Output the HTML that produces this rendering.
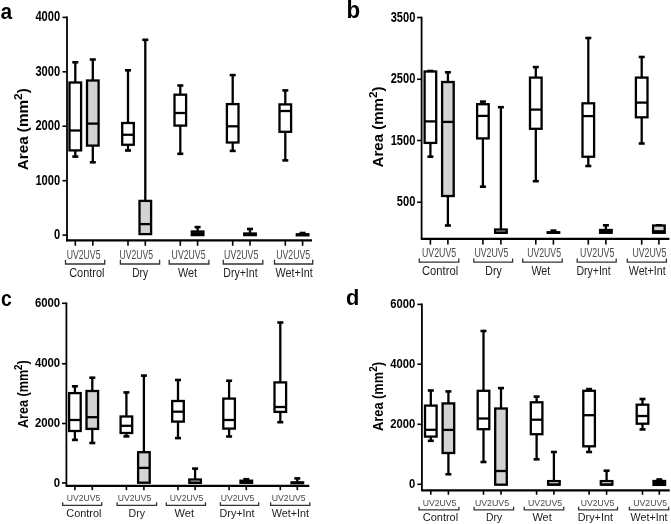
<!DOCTYPE html><html><head><meta charset="utf-8"><style>html,body{margin:0;padding:0;background:#fff;width:671px;height:524px;overflow:hidden}svg{display:block}text{font-family:"Liberation Sans",sans-serif}</style></head><body>
<svg style="will-change:transform" width="671" height="524" viewBox="0 0 671 524">
<rect width="671" height="524" fill="#fff"/>
<text transform="translate(0.6,18.6) scale(0.92,1)" font-size="22.8" font-weight="bold" fill="#000">a</text>
<line x1="67" y1="16.6" x2="67" y2="241.3" stroke="#000" stroke-width="1.8"/>
<line x1="62.5" y1="17.4" x2="67" y2="17.4" stroke="#000" stroke-width="1.6"/>
<text x="60.2" y="21.2" font-size="14.3" font-weight="bold" text-anchor="end" textLength="24.8" lengthAdjust="spacingAndGlyphs" fill="#000">4000</text>
<line x1="62.5" y1="71.8" x2="67" y2="71.8" stroke="#000" stroke-width="1.6"/>
<text x="60.2" y="75.6" font-size="14.3" font-weight="bold" text-anchor="end" textLength="24.8" lengthAdjust="spacingAndGlyphs" fill="#000">3000</text>
<line x1="62.5" y1="126.2" x2="67" y2="126.2" stroke="#000" stroke-width="1.6"/>
<text x="60.2" y="130" font-size="14.3" font-weight="bold" text-anchor="end" textLength="24.8" lengthAdjust="spacingAndGlyphs" fill="#000">2000</text>
<line x1="62.5" y1="180.7" x2="67" y2="180.7" stroke="#000" stroke-width="1.6"/>
<text x="60.2" y="184.5" font-size="14.3" font-weight="bold" text-anchor="end" textLength="24.8" lengthAdjust="spacingAndGlyphs" fill="#000">1000</text>
<line x1="62.5" y1="235.1" x2="67" y2="235.1" stroke="#000" stroke-width="1.6"/>
<text x="60.2" y="238.9" font-size="14.3" font-weight="bold" text-anchor="end" textLength="6.2" lengthAdjust="spacingAndGlyphs" fill="#000">0</text>
<text transform="translate(28,170.3) rotate(-90)" font-size="14.4" font-weight="bold" fill="#000" textLength="82.1" lengthAdjust="spacingAndGlyphs">Area (mm<tspan dy="-6" font-size="11.23">2</tspan><tspan dy="6">)</tspan></text>
<line x1="66" y1="240.3" x2="312" y2="240.3" stroke="#000" stroke-width="2.2"/>
<line x1="75.3" y1="240.3" x2="75.3" y2="245.8" stroke="#000" stroke-width="1.6"/>
<line x1="92.8" y1="240.3" x2="92.8" y2="245.8" stroke="#000" stroke-width="1.6"/>
<line x1="128" y1="240.3" x2="128" y2="245.8" stroke="#000" stroke-width="1.6"/>
<line x1="145.3" y1="240.3" x2="145.3" y2="245.8" stroke="#000" stroke-width="1.6"/>
<line x1="180.3" y1="240.3" x2="180.3" y2="245.8" stroke="#000" stroke-width="1.6"/>
<line x1="197.6" y1="240.3" x2="197.6" y2="245.8" stroke="#000" stroke-width="1.6"/>
<line x1="232.7" y1="240.3" x2="232.7" y2="245.8" stroke="#000" stroke-width="1.6"/>
<line x1="250" y1="240.3" x2="250" y2="245.8" stroke="#000" stroke-width="1.6"/>
<line x1="285.3" y1="240.3" x2="285.3" y2="245.8" stroke="#000" stroke-width="1.6"/>
<line x1="302.6" y1="240.3" x2="302.6" y2="245.8" stroke="#000" stroke-width="1.6"/>
<line x1="75.3" y1="62.3" x2="75.3" y2="82.5" stroke="#000" stroke-width="2.3"/>
<line x1="72.3" y1="62.3" x2="78.3" y2="62.3" stroke="#000" stroke-width="2.6"/>
<line x1="75.3" y1="150.4" x2="75.3" y2="156.6" stroke="#000" stroke-width="2.3"/>
<line x1="72.3" y1="156.6" x2="78.3" y2="156.6" stroke="#000" stroke-width="2.6"/>
<rect x="69.5" y="82.5" width="11.6" height="67.9" fill="#fff" stroke="#000" stroke-width="2.3"/>
<line x1="69.5" y1="130.5" x2="81.1" y2="130.5" stroke="#000" stroke-width="2.3"/>
<line x1="92.8" y1="59.5" x2="92.8" y2="80.5" stroke="#000" stroke-width="2.3"/>
<line x1="89.8" y1="59.5" x2="95.8" y2="59.5" stroke="#000" stroke-width="2.6"/>
<line x1="92.8" y1="145.6" x2="92.8" y2="162.3" stroke="#000" stroke-width="2.3"/>
<line x1="89.8" y1="162.3" x2="95.8" y2="162.3" stroke="#000" stroke-width="2.6"/>
<rect x="87" y="80.5" width="11.6" height="65.1" fill="#d3d3d3" stroke="#000" stroke-width="2.3"/>
<line x1="87" y1="123.6" x2="98.6" y2="123.6" stroke="#000" stroke-width="2.3"/>
<line x1="128" y1="70.3" x2="128" y2="123" stroke="#000" stroke-width="2.3"/>
<line x1="125" y1="70.3" x2="131" y2="70.3" stroke="#000" stroke-width="2.6"/>
<line x1="128" y1="144.75" x2="128" y2="150.5" stroke="#000" stroke-width="2.3"/>
<line x1="125" y1="150.5" x2="131" y2="150.5" stroke="#000" stroke-width="2.6"/>
<rect x="122.2" y="123" width="11.6" height="21.75" fill="#fff" stroke="#000" stroke-width="2.3"/>
<line x1="122.2" y1="134.75" x2="133.8" y2="134.75" stroke="#000" stroke-width="2.3"/>
<line x1="145.3" y1="39.8" x2="145.3" y2="200.9" stroke="#000" stroke-width="2.3"/>
<line x1="142.3" y1="39.8" x2="148.3" y2="39.8" stroke="#000" stroke-width="2.6"/>
<rect x="139.5" y="200.9" width="11.6" height="33.2" fill="#d3d3d3" stroke="#000" stroke-width="2.3"/>
<line x1="139.5" y1="224.1" x2="151.1" y2="224.1" stroke="#000" stroke-width="2.3"/>
<line x1="180.3" y1="85.5" x2="180.3" y2="94.7" stroke="#000" stroke-width="2.3"/>
<line x1="177.3" y1="85.5" x2="183.3" y2="85.5" stroke="#000" stroke-width="2.6"/>
<line x1="180.3" y1="125.6" x2="180.3" y2="153.8" stroke="#000" stroke-width="2.3"/>
<line x1="177.3" y1="153.8" x2="183.3" y2="153.8" stroke="#000" stroke-width="2.6"/>
<rect x="174.5" y="94.7" width="11.6" height="30.9" fill="#fff" stroke="#000" stroke-width="2.3"/>
<line x1="174.5" y1="113" x2="186.1" y2="113" stroke="#000" stroke-width="2.3"/>
<line x1="197.6" y1="227.1" x2="197.6" y2="231.5" stroke="#000" stroke-width="2.3"/>
<line x1="194.6" y1="227.1" x2="200.6" y2="227.1" stroke="#000" stroke-width="2.6"/>
<rect x="191.8" y="231.5" width="11.6" height="3.6" fill="#fff" stroke="#000" stroke-width="2.3"/>
<line x1="191.8" y1="233.3" x2="203.4" y2="233.3" stroke="#000" stroke-width="2.3"/>
<line x1="232.7" y1="75.1" x2="232.7" y2="104.1" stroke="#000" stroke-width="2.3"/>
<line x1="229.7" y1="75.1" x2="235.7" y2="75.1" stroke="#000" stroke-width="2.6"/>
<line x1="232.7" y1="142.5" x2="232.7" y2="150.9" stroke="#000" stroke-width="2.3"/>
<line x1="229.7" y1="150.9" x2="235.7" y2="150.9" stroke="#000" stroke-width="2.6"/>
<rect x="226.9" y="104.1" width="11.6" height="38.4" fill="#fff" stroke="#000" stroke-width="2.3"/>
<line x1="226.9" y1="126.3" x2="238.5" y2="126.3" stroke="#000" stroke-width="2.3"/>
<line x1="250" y1="229" x2="250" y2="233.5" stroke="#000" stroke-width="2.3"/>
<line x1="247" y1="229" x2="253" y2="229" stroke="#000" stroke-width="2.6"/>
<rect x="244.2" y="233.5" width="11.6" height="1.6" fill="#fff" stroke="#000" stroke-width="2.3"/>
<line x1="244.2" y1="234.3" x2="255.8" y2="234.3" stroke="#000" stroke-width="2.3"/>
<line x1="285.3" y1="90.4" x2="285.3" y2="104.4" stroke="#000" stroke-width="2.3"/>
<line x1="282.3" y1="90.4" x2="288.3" y2="90.4" stroke="#000" stroke-width="2.6"/>
<line x1="285.3" y1="131.8" x2="285.3" y2="160.4" stroke="#000" stroke-width="2.3"/>
<line x1="282.3" y1="160.4" x2="288.3" y2="160.4" stroke="#000" stroke-width="2.6"/>
<rect x="279.5" y="104.4" width="11.6" height="27.4" fill="#fff" stroke="#000" stroke-width="2.3"/>
<line x1="279.5" y1="111" x2="291.1" y2="111" stroke="#000" stroke-width="2.3"/>
<line x1="302.6" y1="233" x2="302.6" y2="234.3" stroke="#000" stroke-width="2.3"/>
<line x1="299.6" y1="233" x2="305.6" y2="233" stroke="#000" stroke-width="2.6"/>
<rect x="296.8" y="234.3" width="11.6" height="1" fill="#fff" stroke="#000" stroke-width="2.3"/>
<line x1="296.8" y1="234.8" x2="308.4" y2="234.8" stroke="#000" stroke-width="2.3"/>
<text x="66.7" y="258.7" font-size="12.4" fill="#484848" textLength="33.8" lengthAdjust="spacingAndGlyphs">UV2UV5</text>
<text x="119.6" y="258.7" font-size="12.4" fill="#484848" textLength="33.5" lengthAdjust="spacingAndGlyphs">UV2UV5</text>
<text x="171.6" y="258.7" font-size="12.4" fill="#484848" textLength="33.9" lengthAdjust="spacingAndGlyphs">UV2UV5</text>
<text x="224.1" y="258.7" font-size="12.4" fill="#484848" textLength="34.3" lengthAdjust="spacingAndGlyphs">UV2UV5</text>
<text x="276.2" y="258.7" font-size="12.4" fill="#484848" textLength="33.9" lengthAdjust="spacingAndGlyphs">UV2UV5</text>
<path d="M65.5 259.7V264H104.7V259.7" fill="none" stroke="#333" stroke-width="1.3"/>
<path d="M120.4 259.7V264H159.6V259.7" fill="none" stroke="#333" stroke-width="1.3"/>
<path d="M169.2 259.7V264H208.9V259.7" fill="none" stroke="#333" stroke-width="1.3"/>
<path d="M223.3 259.7V264H262.8V259.7" fill="none" stroke="#333" stroke-width="1.3"/>
<path d="M274.5 259.7V264H312.7V259.7" fill="none" stroke="#333" stroke-width="1.3"/>
<text x="69.2" y="276.8" font-size="13.5" fill="#222" textLength="35.2" lengthAdjust="spacingAndGlyphs">Control</text>
<text x="132.3" y="276.8" font-size="13.5" fill="#222" textLength="15.7" lengthAdjust="spacingAndGlyphs">Dry</text>
<text x="177.9" y="276.8" font-size="13.5" fill="#222" textLength="19.1" lengthAdjust="spacingAndGlyphs">Wet</text>
<text x="223.3" y="276.8" font-size="13.5" fill="#222" textLength="34.3" lengthAdjust="spacingAndGlyphs">Dry+Int</text>
<text x="275.5" y="276.8" font-size="13.5" fill="#222" textLength="37.2" lengthAdjust="spacingAndGlyphs">Wet+Int</text>
<text transform="translate(346.6,18.1) scale(0.96,1)" font-size="23.2" font-weight="bold" fill="#000">b</text>
<line x1="421.6" y1="16.7" x2="421.6" y2="239.8" stroke="#000" stroke-width="1.8"/>
<line x1="417.1" y1="17.5" x2="421.6" y2="17.5" stroke="#000" stroke-width="1.6"/>
<text x="415.3" y="21.5" font-size="14.3" font-weight="bold" text-anchor="end" textLength="24.6" lengthAdjust="spacingAndGlyphs" fill="#000">3500</text>
<line x1="417.1" y1="79.25" x2="421.6" y2="79.25" stroke="#000" stroke-width="1.6"/>
<text x="415.3" y="83.25" font-size="14.3" font-weight="bold" text-anchor="end" textLength="24.6" lengthAdjust="spacingAndGlyphs" fill="#000">2500</text>
<line x1="417.1" y1="140.5" x2="421.6" y2="140.5" stroke="#000" stroke-width="1.6"/>
<text x="415.3" y="144.5" font-size="14.3" font-weight="bold" text-anchor="end" textLength="24.6" lengthAdjust="spacingAndGlyphs" fill="#000">1500</text>
<line x1="417.1" y1="202.25" x2="421.6" y2="202.25" stroke="#000" stroke-width="1.6"/>
<text x="415.3" y="206.25" font-size="14.3" font-weight="bold" text-anchor="end" textLength="18.45" lengthAdjust="spacingAndGlyphs" fill="#000">500</text>
<text transform="translate(382.7,167.5) rotate(-90)" font-size="14.4" font-weight="bold" fill="#000" textLength="81.1" lengthAdjust="spacingAndGlyphs">Area (mm<tspan dy="-6" font-size="11.23">2</tspan><tspan dy="6">)</tspan></text>
<line x1="421.2" y1="238.8" x2="669.4" y2="238.8" stroke="#000" stroke-width="2.2"/>
<line x1="430.4" y1="238.8" x2="430.4" y2="244.6" stroke="#000" stroke-width="1.6"/>
<line x1="447.9" y1="238.8" x2="447.9" y2="244.6" stroke="#000" stroke-width="1.6"/>
<line x1="482.9" y1="238.8" x2="482.9" y2="244.6" stroke="#000" stroke-width="1.6"/>
<line x1="500.9" y1="238.8" x2="500.9" y2="244.6" stroke="#000" stroke-width="1.6"/>
<line x1="535.8" y1="238.8" x2="535.8" y2="244.6" stroke="#000" stroke-width="1.6"/>
<line x1="553.4" y1="238.8" x2="553.4" y2="244.6" stroke="#000" stroke-width="1.6"/>
<line x1="588.3" y1="238.8" x2="588.3" y2="244.6" stroke="#000" stroke-width="1.6"/>
<line x1="605.9" y1="238.8" x2="605.9" y2="244.6" stroke="#000" stroke-width="1.6"/>
<line x1="641.7" y1="238.8" x2="641.7" y2="244.6" stroke="#000" stroke-width="1.6"/>
<line x1="658.9" y1="238.8" x2="658.9" y2="244.6" stroke="#000" stroke-width="1.6"/>
<line x1="427.4" y1="71" x2="433.4" y2="71" stroke="#000" stroke-width="2.6"/>
<line x1="430.4" y1="142.9" x2="430.4" y2="156.7" stroke="#000" stroke-width="2.3"/>
<line x1="427.4" y1="156.7" x2="433.4" y2="156.7" stroke="#000" stroke-width="2.6"/>
<rect x="424.6" y="71.5" width="11.6" height="71.4" fill="#fff" stroke="#000" stroke-width="2.3"/>
<line x1="424.6" y1="121.4" x2="436.2" y2="121.4" stroke="#000" stroke-width="2.3"/>
<line x1="447.9" y1="72.3" x2="447.9" y2="82" stroke="#000" stroke-width="2.3"/>
<line x1="444.9" y1="72.3" x2="450.9" y2="72.3" stroke="#000" stroke-width="2.6"/>
<line x1="447.9" y1="196" x2="447.9" y2="225.5" stroke="#000" stroke-width="2.3"/>
<line x1="444.9" y1="225.5" x2="450.9" y2="225.5" stroke="#000" stroke-width="2.6"/>
<rect x="442.1" y="82" width="11.6" height="114" fill="#d3d3d3" stroke="#000" stroke-width="2.3"/>
<line x1="442.1" y1="121.9" x2="453.7" y2="121.9" stroke="#000" stroke-width="2.3"/>
<line x1="482.9" y1="101.6" x2="482.9" y2="104.2" stroke="#000" stroke-width="2.3"/>
<line x1="479.9" y1="101.6" x2="485.9" y2="101.6" stroke="#000" stroke-width="2.6"/>
<line x1="482.9" y1="138.4" x2="482.9" y2="186.7" stroke="#000" stroke-width="2.3"/>
<line x1="479.9" y1="186.7" x2="485.9" y2="186.7" stroke="#000" stroke-width="2.6"/>
<rect x="477.1" y="104.2" width="11.6" height="34.2" fill="#fff" stroke="#000" stroke-width="2.3"/>
<line x1="477.1" y1="115.9" x2="488.7" y2="115.9" stroke="#000" stroke-width="2.3"/>
<line x1="500.9" y1="107.2" x2="500.9" y2="229.5" stroke="#000" stroke-width="2.3"/>
<line x1="497.9" y1="107.2" x2="503.9" y2="107.2" stroke="#000" stroke-width="2.6"/>
<rect x="495.1" y="229.5" width="11.6" height="3.3" fill="#d3d3d3" stroke="#000" stroke-width="2.3"/>
<line x1="495.1" y1="232.8" x2="506.7" y2="232.8" stroke="#000" stroke-width="2.3"/>
<line x1="535.8" y1="67.1" x2="535.8" y2="77.6" stroke="#000" stroke-width="2.3"/>
<line x1="532.8" y1="67.1" x2="538.8" y2="67.1" stroke="#000" stroke-width="2.6"/>
<line x1="535.8" y1="128.8" x2="535.8" y2="181.2" stroke="#000" stroke-width="2.3"/>
<line x1="532.8" y1="181.2" x2="538.8" y2="181.2" stroke="#000" stroke-width="2.6"/>
<rect x="530" y="77.6" width="11.6" height="51.2" fill="#fff" stroke="#000" stroke-width="2.3"/>
<line x1="530" y1="109.6" x2="541.6" y2="109.6" stroke="#000" stroke-width="2.3"/>
<line x1="553.4" y1="230.6" x2="553.4" y2="232.3" stroke="#000" stroke-width="2.3"/>
<line x1="550.4" y1="230.6" x2="556.4" y2="230.6" stroke="#000" stroke-width="2.6"/>
<rect x="547.6" y="232.3" width="11.6" height="0.5" fill="#fff" stroke="#000" stroke-width="2.3"/>
<line x1="547.6" y1="232.5" x2="559.2" y2="232.5" stroke="#000" stroke-width="2.3"/>
<line x1="588.3" y1="38" x2="588.3" y2="103.3" stroke="#000" stroke-width="2.3"/>
<line x1="585.3" y1="38" x2="591.3" y2="38" stroke="#000" stroke-width="2.6"/>
<line x1="588.3" y1="156.75" x2="588.3" y2="166" stroke="#000" stroke-width="2.3"/>
<line x1="585.3" y1="166" x2="591.3" y2="166" stroke="#000" stroke-width="2.6"/>
<rect x="582.5" y="103.3" width="11.6" height="53.45" fill="#fff" stroke="#000" stroke-width="2.3"/>
<line x1="582.5" y1="116.1" x2="594.1" y2="116.1" stroke="#000" stroke-width="2.3"/>
<line x1="605.9" y1="225.3" x2="605.9" y2="230" stroke="#000" stroke-width="2.3"/>
<line x1="602.9" y1="225.3" x2="608.9" y2="225.3" stroke="#000" stroke-width="2.6"/>
<rect x="600.1" y="230" width="11.6" height="2.8" fill="#fff" stroke="#000" stroke-width="2.3"/>
<line x1="600.1" y1="231.4" x2="611.7" y2="231.4" stroke="#000" stroke-width="2.3"/>
<line x1="641.7" y1="57" x2="641.7" y2="77.6" stroke="#000" stroke-width="2.3"/>
<line x1="638.7" y1="57" x2="644.7" y2="57" stroke="#000" stroke-width="2.6"/>
<line x1="641.7" y1="117.3" x2="641.7" y2="143.5" stroke="#000" stroke-width="2.3"/>
<line x1="638.7" y1="143.5" x2="644.7" y2="143.5" stroke="#000" stroke-width="2.6"/>
<rect x="635.9" y="77.6" width="11.6" height="39.7" fill="#fff" stroke="#000" stroke-width="2.3"/>
<line x1="635.9" y1="102.6" x2="647.5" y2="102.6" stroke="#000" stroke-width="2.3"/>
<line x1="655.9" y1="225.3" x2="661.9" y2="225.3" stroke="#000" stroke-width="2.6"/>
<rect x="653.1" y="225.5" width="11.6" height="7.3" fill="#d3d3d3" stroke="#000" stroke-width="2.3"/>
<line x1="653.1" y1="231.3" x2="664.7" y2="231.3" stroke="#000" stroke-width="2.3"/>
<text x="422" y="257.4" font-size="12.4" fill="#484848" textLength="34.2" lengthAdjust="spacingAndGlyphs">UV2UV5</text>
<text x="474.4" y="257.4" font-size="12.4" fill="#484848" textLength="34" lengthAdjust="spacingAndGlyphs">UV2UV5</text>
<text x="527.2" y="257.4" font-size="12.4" fill="#484848" textLength="33.8" lengthAdjust="spacingAndGlyphs">UV2UV5</text>
<text x="580.1" y="257.4" font-size="12.4" fill="#484848" textLength="34.3" lengthAdjust="spacingAndGlyphs">UV2UV5</text>
<text x="632.4" y="257.4" font-size="12.4" fill="#484848" textLength="34" lengthAdjust="spacingAndGlyphs">UV2UV5</text>
<path d="M419.3 258.6V262.2H458.8V258.6" fill="none" stroke="#333" stroke-width="1.3"/>
<path d="M473.8 258.6V262.2H512.6V258.6" fill="none" stroke="#333" stroke-width="1.3"/>
<path d="M522.7 258.6V262.2H562.2V258.6" fill="none" stroke="#333" stroke-width="1.3"/>
<path d="M577.2 258.6V262.2H616.2V258.6" fill="none" stroke="#333" stroke-width="1.3"/>
<path d="M627.3 258.6V262.2H666.4V258.6" fill="none" stroke="#333" stroke-width="1.3"/>
<text x="422" y="275.4" font-size="13.5" fill="#222" textLength="36.2" lengthAdjust="spacingAndGlyphs">Control</text>
<text x="485.3" y="275.4" font-size="13.5" fill="#222" textLength="16.4" lengthAdjust="spacingAndGlyphs">Dry</text>
<text x="531.4" y="275.4" font-size="13.5" fill="#222" textLength="18.9" lengthAdjust="spacingAndGlyphs">Wet</text>
<text x="576.4" y="275.4" font-size="13.5" fill="#222" textLength="34.2" lengthAdjust="spacingAndGlyphs">Dry+Int</text>
<text x="628.8" y="275.4" font-size="13.5" fill="#222" textLength="36.8" lengthAdjust="spacingAndGlyphs">Wet+Int</text>
<text transform="translate(1,305.5) scale(0.86,1)" font-size="22.5" font-weight="bold" fill="#000">c</text>
<line x1="66.4" y1="302.5" x2="66.4" y2="486.9" stroke="#000" stroke-width="1.8"/>
<line x1="61.9" y1="303.3" x2="66.4" y2="303.3" stroke="#000" stroke-width="1.6"/>
<text x="60.2" y="306.8" font-size="13.2" font-weight="bold" text-anchor="end" textLength="25.3" lengthAdjust="spacingAndGlyphs" fill="#000">6000</text>
<line x1="61.9" y1="363.75" x2="66.4" y2="363.75" stroke="#000" stroke-width="1.6"/>
<text x="60.2" y="367.25" font-size="13.2" font-weight="bold" text-anchor="end" textLength="25.3" lengthAdjust="spacingAndGlyphs" fill="#000">4000</text>
<line x1="61.9" y1="423.5" x2="66.4" y2="423.5" stroke="#000" stroke-width="1.6"/>
<text x="60.2" y="427" font-size="13.2" font-weight="bold" text-anchor="end" textLength="25.3" lengthAdjust="spacingAndGlyphs" fill="#000">2000</text>
<line x1="61.9" y1="483" x2="66.4" y2="483" stroke="#000" stroke-width="1.6"/>
<text x="60.2" y="486.5" font-size="13.2" font-weight="bold" text-anchor="end" textLength="6.33" lengthAdjust="spacingAndGlyphs" fill="#000">0</text>
<text transform="translate(28.1,428) rotate(-90)" font-size="13.9" font-weight="bold" fill="#000" textLength="67.8" lengthAdjust="spacingAndGlyphs">Area (mm<tspan dy="-6" font-size="10.84">2</tspan><tspan dy="6">)</tspan></text>
<line x1="66" y1="485.9" x2="309.3" y2="485.9" stroke="#000" stroke-width="2.2"/>
<line x1="74.9" y1="485.9" x2="74.9" y2="490.2" stroke="#000" stroke-width="1.6"/>
<line x1="92.3" y1="485.9" x2="92.3" y2="490.2" stroke="#000" stroke-width="1.6"/>
<line x1="126.4" y1="485.9" x2="126.4" y2="490.2" stroke="#000" stroke-width="1.6"/>
<line x1="143.9" y1="485.9" x2="143.9" y2="490.2" stroke="#000" stroke-width="1.6"/>
<line x1="178" y1="485.9" x2="178" y2="490.2" stroke="#000" stroke-width="1.6"/>
<line x1="195.1" y1="485.9" x2="195.1" y2="490.2" stroke="#000" stroke-width="1.6"/>
<line x1="229.1" y1="485.9" x2="229.1" y2="490.2" stroke="#000" stroke-width="1.6"/>
<line x1="246.3" y1="485.9" x2="246.3" y2="490.2" stroke="#000" stroke-width="1.6"/>
<line x1="280.3" y1="485.9" x2="280.3" y2="490.2" stroke="#000" stroke-width="1.6"/>
<line x1="297.3" y1="485.9" x2="297.3" y2="490.2" stroke="#000" stroke-width="1.6"/>
<line x1="74.9" y1="386.3" x2="74.9" y2="393.1" stroke="#000" stroke-width="2.3"/>
<line x1="71.9" y1="386.3" x2="77.9" y2="386.3" stroke="#000" stroke-width="2.6"/>
<line x1="74.9" y1="431" x2="74.9" y2="439.9" stroke="#000" stroke-width="2.3"/>
<line x1="71.9" y1="439.9" x2="77.9" y2="439.9" stroke="#000" stroke-width="2.6"/>
<rect x="69.1" y="393.1" width="11.6" height="37.9" fill="#fff" stroke="#000" stroke-width="2.3"/>
<line x1="69.1" y1="420" x2="80.7" y2="420" stroke="#000" stroke-width="2.3"/>
<line x1="92.3" y1="377.7" x2="92.3" y2="391" stroke="#000" stroke-width="2.3"/>
<line x1="89.3" y1="377.7" x2="95.3" y2="377.7" stroke="#000" stroke-width="2.6"/>
<line x1="92.3" y1="428.9" x2="92.3" y2="443" stroke="#000" stroke-width="2.3"/>
<line x1="89.3" y1="443" x2="95.3" y2="443" stroke="#000" stroke-width="2.6"/>
<rect x="86.5" y="391" width="11.6" height="37.9" fill="#d3d3d3" stroke="#000" stroke-width="2.3"/>
<line x1="86.5" y1="417.2" x2="98.1" y2="417.2" stroke="#000" stroke-width="2.3"/>
<line x1="126.4" y1="392.4" x2="126.4" y2="416.5" stroke="#000" stroke-width="2.3"/>
<line x1="123.4" y1="392.4" x2="129.4" y2="392.4" stroke="#000" stroke-width="2.6"/>
<line x1="126.4" y1="433" x2="126.4" y2="436.4" stroke="#000" stroke-width="2.3"/>
<line x1="123.4" y1="436.4" x2="129.4" y2="436.4" stroke="#000" stroke-width="2.6"/>
<rect x="120.6" y="416.5" width="11.6" height="16.5" fill="#fff" stroke="#000" stroke-width="2.3"/>
<line x1="120.6" y1="425.8" x2="132.2" y2="425.8" stroke="#000" stroke-width="2.3"/>
<line x1="143.9" y1="375.6" x2="143.9" y2="452.2" stroke="#000" stroke-width="2.3"/>
<line x1="140.9" y1="375.6" x2="146.9" y2="375.6" stroke="#000" stroke-width="2.6"/>
<rect x="138.1" y="452.2" width="11.6" height="30.5" fill="#d3d3d3" stroke="#000" stroke-width="2.3"/>
<line x1="138.1" y1="467.9" x2="149.7" y2="467.9" stroke="#000" stroke-width="2.3"/>
<line x1="178" y1="380" x2="178" y2="401" stroke="#000" stroke-width="2.3"/>
<line x1="175" y1="380" x2="181" y2="380" stroke="#000" stroke-width="2.6"/>
<line x1="178" y1="421.6" x2="178" y2="438.1" stroke="#000" stroke-width="2.3"/>
<line x1="175" y1="438.1" x2="181" y2="438.1" stroke="#000" stroke-width="2.6"/>
<rect x="172.2" y="401" width="11.6" height="20.6" fill="#fff" stroke="#000" stroke-width="2.3"/>
<line x1="172.2" y1="411.7" x2="183.8" y2="411.7" stroke="#000" stroke-width="2.3"/>
<line x1="195.1" y1="468.6" x2="195.1" y2="479.5" stroke="#000" stroke-width="2.3"/>
<line x1="192.1" y1="468.6" x2="198.1" y2="468.6" stroke="#000" stroke-width="2.6"/>
<rect x="189.3" y="479.5" width="11.6" height="3.3" fill="#fff" stroke="#000" stroke-width="2.3"/>
<line x1="189.3" y1="482.8" x2="200.9" y2="482.8" stroke="#000" stroke-width="2.3"/>
<line x1="229.1" y1="380.75" x2="229.1" y2="398.6" stroke="#000" stroke-width="2.3"/>
<line x1="226.1" y1="380.75" x2="232.1" y2="380.75" stroke="#000" stroke-width="2.6"/>
<line x1="229.1" y1="428.6" x2="229.1" y2="436.5" stroke="#000" stroke-width="2.3"/>
<line x1="226.1" y1="436.5" x2="232.1" y2="436.5" stroke="#000" stroke-width="2.6"/>
<rect x="223.3" y="398.6" width="11.6" height="30" fill="#fff" stroke="#000" stroke-width="2.3"/>
<line x1="223.3" y1="420" x2="234.9" y2="420" stroke="#000" stroke-width="2.3"/>
<line x1="246.3" y1="479.2" x2="246.3" y2="480.7" stroke="#000" stroke-width="2.3"/>
<line x1="243.3" y1="479.2" x2="249.3" y2="479.2" stroke="#000" stroke-width="2.6"/>
<rect x="240.5" y="480.7" width="11.6" height="2.1" fill="#fff" stroke="#000" stroke-width="2.3"/>
<line x1="240.5" y1="481.8" x2="252.1" y2="481.8" stroke="#000" stroke-width="2.3"/>
<line x1="280.3" y1="322.5" x2="280.3" y2="382.4" stroke="#000" stroke-width="2.3"/>
<line x1="277.3" y1="322.5" x2="283.3" y2="322.5" stroke="#000" stroke-width="2.6"/>
<line x1="280.3" y1="411.9" x2="280.3" y2="422.2" stroke="#000" stroke-width="2.3"/>
<line x1="277.3" y1="422.2" x2="283.3" y2="422.2" stroke="#000" stroke-width="2.6"/>
<rect x="274.5" y="382.4" width="11.6" height="29.5" fill="#fff" stroke="#000" stroke-width="2.3"/>
<line x1="274.5" y1="407" x2="286.1" y2="407" stroke="#000" stroke-width="2.3"/>
<line x1="297.3" y1="478.4" x2="297.3" y2="482.4" stroke="#000" stroke-width="2.3"/>
<line x1="294.3" y1="478.4" x2="300.3" y2="478.4" stroke="#000" stroke-width="2.6"/>
<rect x="291.5" y="482.4" width="11.6" height="0.8" fill="#fff" stroke="#000" stroke-width="2.3"/>
<line x1="291.5" y1="482.8" x2="303.1" y2="482.8" stroke="#000" stroke-width="2.3"/>
<text x="66.7" y="501.4" font-size="9.8" fill="#484848" textLength="33.5" lengthAdjust="spacingAndGlyphs">UV2UV5</text>
<text x="117.8" y="501.4" font-size="9.8" fill="#484848" textLength="33.4" lengthAdjust="spacingAndGlyphs">UV2UV5</text>
<text x="169.7" y="501.4" font-size="9.8" fill="#484848" textLength="33.5" lengthAdjust="spacingAndGlyphs">UV2UV5</text>
<text x="220.8" y="501.4" font-size="9.8" fill="#484848" textLength="33.4" lengthAdjust="spacingAndGlyphs">UV2UV5</text>
<text x="271.8" y="501.4" font-size="9.8" fill="#484848" textLength="33.8" lengthAdjust="spacingAndGlyphs">UV2UV5</text>
<path d="M62.7 502.3V505.3H101.7V502.3" fill="none" stroke="#333" stroke-width="1.3"/>
<path d="M117.1 502.3V505.3H156.6V502.3" fill="none" stroke="#333" stroke-width="1.3"/>
<path d="M166.3 502.3V505.3H205.5V502.3" fill="none" stroke="#333" stroke-width="1.3"/>
<path d="M220.4 502.3V505.3H258.7V502.3" fill="none" stroke="#333" stroke-width="1.3"/>
<path d="M270.6 502.3V505.3H309.8V502.3" fill="none" stroke="#333" stroke-width="1.3"/>
<text x="66.3" y="516.6" font-size="10.9" fill="#222" textLength="35.1" lengthAdjust="spacingAndGlyphs">Control</text>
<text x="128.6" y="516.6" font-size="10.9" fill="#222" textLength="16.4" lengthAdjust="spacingAndGlyphs">Dry</text>
<text x="174.5" y="516.6" font-size="10.9" fill="#222" textLength="19.5" lengthAdjust="spacingAndGlyphs">Wet</text>
<text x="219.6" y="516.6" font-size="10.9" fill="#222" textLength="35" lengthAdjust="spacingAndGlyphs">Dry+Int</text>
<text x="271.8" y="516.6" font-size="10.9" fill="#222" textLength="37.2" lengthAdjust="spacingAndGlyphs">Wet+Int</text>
<text transform="translate(346,304.5) scale(0.97,1)" font-size="22.5" font-weight="bold" fill="#000">d</text>
<line x1="421.9" y1="303.6" x2="421.9" y2="491.3" stroke="#000" stroke-width="1.8"/>
<line x1="417.4" y1="304.4" x2="421.9" y2="304.4" stroke="#000" stroke-width="1.6"/>
<text x="415.3" y="308.3" font-size="13.2" font-weight="bold" text-anchor="end" textLength="25" lengthAdjust="spacingAndGlyphs" fill="#000">6000</text>
<line x1="417.4" y1="364.2" x2="421.9" y2="364.2" stroke="#000" stroke-width="1.6"/>
<text x="415.3" y="368.1" font-size="13.2" font-weight="bold" text-anchor="end" textLength="25" lengthAdjust="spacingAndGlyphs" fill="#000">4000</text>
<line x1="417.4" y1="424.3" x2="421.9" y2="424.3" stroke="#000" stroke-width="1.6"/>
<text x="415.3" y="428.2" font-size="13.2" font-weight="bold" text-anchor="end" textLength="25" lengthAdjust="spacingAndGlyphs" fill="#000">2000</text>
<line x1="417.4" y1="484.3" x2="421.9" y2="484.3" stroke="#000" stroke-width="1.6"/>
<text x="415.3" y="488.2" font-size="13.2" font-weight="bold" text-anchor="end" textLength="6.25" lengthAdjust="spacingAndGlyphs" fill="#000">0</text>
<text transform="translate(383.1,431) rotate(-90)" font-size="13.9" font-weight="bold" fill="#000" textLength="69" lengthAdjust="spacingAndGlyphs">Area (mm<tspan dy="-6" font-size="10.84">2</tspan><tspan dy="6">)</tspan></text>
<line x1="421.7" y1="490.3" x2="669.7" y2="490.3" stroke="#000" stroke-width="2.2"/>
<line x1="430.8" y1="490.3" x2="430.8" y2="494.8" stroke="#000" stroke-width="1.6"/>
<line x1="448.4" y1="490.3" x2="448.4" y2="494.8" stroke="#000" stroke-width="1.6"/>
<line x1="483.5" y1="490.3" x2="483.5" y2="494.8" stroke="#000" stroke-width="1.6"/>
<line x1="501" y1="490.3" x2="501" y2="494.8" stroke="#000" stroke-width="1.6"/>
<line x1="536.6" y1="490.3" x2="536.6" y2="494.8" stroke="#000" stroke-width="1.6"/>
<line x1="553.9" y1="490.3" x2="553.9" y2="494.8" stroke="#000" stroke-width="1.6"/>
<line x1="589.1" y1="490.3" x2="589.1" y2="494.8" stroke="#000" stroke-width="1.6"/>
<line x1="606.6" y1="490.3" x2="606.6" y2="494.8" stroke="#000" stroke-width="1.6"/>
<line x1="642.5" y1="490.3" x2="642.5" y2="494.8" stroke="#000" stroke-width="1.6"/>
<line x1="659.3" y1="490.3" x2="659.3" y2="494.8" stroke="#000" stroke-width="1.6"/>
<line x1="430.8" y1="390.5" x2="430.8" y2="405.6" stroke="#000" stroke-width="2.3"/>
<line x1="427.8" y1="390.5" x2="433.8" y2="390.5" stroke="#000" stroke-width="2.6"/>
<line x1="430.8" y1="436.6" x2="430.8" y2="440.8" stroke="#000" stroke-width="2.3"/>
<line x1="427.8" y1="440.8" x2="433.8" y2="440.8" stroke="#000" stroke-width="2.6"/>
<rect x="425" y="405.6" width="11.6" height="31" fill="#fff" stroke="#000" stroke-width="2.3"/>
<line x1="425" y1="429.8" x2="436.6" y2="429.8" stroke="#000" stroke-width="2.3"/>
<line x1="448.4" y1="391.4" x2="448.4" y2="403.4" stroke="#000" stroke-width="2.3"/>
<line x1="445.4" y1="391.4" x2="451.4" y2="391.4" stroke="#000" stroke-width="2.6"/>
<line x1="448.4" y1="453" x2="448.4" y2="474.25" stroke="#000" stroke-width="2.3"/>
<line x1="445.4" y1="474.25" x2="451.4" y2="474.25" stroke="#000" stroke-width="2.6"/>
<rect x="442.6" y="403.4" width="11.6" height="49.6" fill="#d3d3d3" stroke="#000" stroke-width="2.3"/>
<line x1="442.6" y1="429.9" x2="454.2" y2="429.9" stroke="#000" stroke-width="2.3"/>
<line x1="483.5" y1="331" x2="483.5" y2="390.8" stroke="#000" stroke-width="2.3"/>
<line x1="480.5" y1="331" x2="486.5" y2="331" stroke="#000" stroke-width="2.6"/>
<line x1="483.5" y1="429.2" x2="483.5" y2="462" stroke="#000" stroke-width="2.3"/>
<line x1="480.5" y1="462" x2="486.5" y2="462" stroke="#000" stroke-width="2.6"/>
<rect x="477.7" y="390.8" width="11.6" height="38.4" fill="#fff" stroke="#000" stroke-width="2.3"/>
<line x1="477.7" y1="418.5" x2="489.3" y2="418.5" stroke="#000" stroke-width="2.3"/>
<line x1="501" y1="388.1" x2="501" y2="408.5" stroke="#000" stroke-width="2.3"/>
<line x1="498" y1="388.1" x2="504" y2="388.1" stroke="#000" stroke-width="2.6"/>
<rect x="495.2" y="408.5" width="11.6" height="76.2" fill="#d3d3d3" stroke="#000" stroke-width="2.3"/>
<line x1="495.2" y1="471" x2="506.8" y2="471" stroke="#000" stroke-width="2.3"/>
<line x1="536.6" y1="396.6" x2="536.6" y2="402.3" stroke="#000" stroke-width="2.3"/>
<line x1="533.6" y1="396.6" x2="539.6" y2="396.6" stroke="#000" stroke-width="2.6"/>
<line x1="536.6" y1="434.2" x2="536.6" y2="459.3" stroke="#000" stroke-width="2.3"/>
<line x1="533.6" y1="459.3" x2="539.6" y2="459.3" stroke="#000" stroke-width="2.6"/>
<rect x="530.8" y="402.3" width="11.6" height="31.9" fill="#fff" stroke="#000" stroke-width="2.3"/>
<line x1="530.8" y1="419.7" x2="542.4" y2="419.7" stroke="#000" stroke-width="2.3"/>
<line x1="553.9" y1="452" x2="553.9" y2="481.1" stroke="#000" stroke-width="2.3"/>
<line x1="550.9" y1="452" x2="556.9" y2="452" stroke="#000" stroke-width="2.6"/>
<rect x="548.1" y="481.1" width="11.6" height="3.5" fill="#fff" stroke="#000" stroke-width="2.3"/>
<line x1="548.1" y1="484.6" x2="559.7" y2="484.6" stroke="#000" stroke-width="2.3"/>
<line x1="589.1" y1="389.1" x2="589.1" y2="390.8" stroke="#000" stroke-width="2.3"/>
<line x1="586.1" y1="389.1" x2="592.1" y2="389.1" stroke="#000" stroke-width="2.6"/>
<line x1="589.1" y1="446.3" x2="589.1" y2="452" stroke="#000" stroke-width="2.3"/>
<line x1="586.1" y1="452" x2="592.1" y2="452" stroke="#000" stroke-width="2.6"/>
<rect x="583.3" y="390.8" width="11.6" height="55.5" fill="#fff" stroke="#000" stroke-width="2.3"/>
<line x1="583.3" y1="415.2" x2="594.9" y2="415.2" stroke="#000" stroke-width="2.3"/>
<line x1="606.6" y1="470.7" x2="606.6" y2="481.1" stroke="#000" stroke-width="2.3"/>
<line x1="603.6" y1="470.7" x2="609.6" y2="470.7" stroke="#000" stroke-width="2.6"/>
<rect x="600.8" y="481.1" width="11.6" height="3.5" fill="#fff" stroke="#000" stroke-width="2.3"/>
<line x1="600.8" y1="484.6" x2="612.4" y2="484.6" stroke="#000" stroke-width="2.3"/>
<line x1="642.5" y1="399" x2="642.5" y2="404.7" stroke="#000" stroke-width="2.3"/>
<line x1="639.5" y1="399" x2="645.5" y2="399" stroke="#000" stroke-width="2.6"/>
<line x1="642.5" y1="423.7" x2="642.5" y2="429.4" stroke="#000" stroke-width="2.3"/>
<line x1="639.5" y1="429.4" x2="645.5" y2="429.4" stroke="#000" stroke-width="2.6"/>
<rect x="636.7" y="404.7" width="11.6" height="19" fill="#fff" stroke="#000" stroke-width="2.3"/>
<line x1="636.7" y1="416" x2="648.3" y2="416" stroke="#000" stroke-width="2.3"/>
<line x1="659.3" y1="479.5" x2="659.3" y2="481" stroke="#000" stroke-width="2.3"/>
<line x1="656.3" y1="479.5" x2="662.3" y2="479.5" stroke="#000" stroke-width="2.6"/>
<rect x="653.5" y="481" width="11.6" height="3.9" fill="#fff" stroke="#000" stroke-width="2.3"/>
<line x1="653.5" y1="483" x2="665.1" y2="483" stroke="#000" stroke-width="2.3"/>
<text x="422.7" y="505.8" font-size="9.8" fill="#484848" textLength="33.5" lengthAdjust="spacingAndGlyphs">UV2UV5</text>
<text x="474.9" y="505.8" font-size="9.8" fill="#484848" textLength="34.2" lengthAdjust="spacingAndGlyphs">UV2UV5</text>
<text x="527.9" y="505.8" font-size="9.8" fill="#484848" textLength="34.3" lengthAdjust="spacingAndGlyphs">UV2UV5</text>
<text x="580.8" y="505.8" font-size="9.8" fill="#484848" textLength="33.6" lengthAdjust="spacingAndGlyphs">UV2UV5</text>
<text x="633.3" y="505.8" font-size="9.8" fill="#484848" textLength="33.8" lengthAdjust="spacingAndGlyphs">UV2UV5</text>
<path d="M419 506.8V509.8H458.9V506.8" fill="none" stroke="#333" stroke-width="1.3"/>
<path d="M474.1 506.8V509.8H513.6V506.8" fill="none" stroke="#333" stroke-width="1.3"/>
<path d="M524.2 506.8V509.8H563.7V506.8" fill="none" stroke="#333" stroke-width="1.3"/>
<path d="M578.6 506.8V509.8H617.5V506.8" fill="none" stroke="#333" stroke-width="1.3"/>
<path d="M629.4 506.8V509.8H668.6V506.8" fill="none" stroke="#333" stroke-width="1.3"/>
<text x="422.7" y="520.5" font-size="10.9" fill="#222" textLength="35.5" lengthAdjust="spacingAndGlyphs">Control</text>
<text x="486" y="520.5" font-size="10.9" fill="#222" textLength="16.1" lengthAdjust="spacingAndGlyphs">Dry</text>
<text x="532.4" y="520.5" font-size="10.9" fill="#222" textLength="19.4" lengthAdjust="spacingAndGlyphs">Wet</text>
<text x="577.8" y="520.5" font-size="10.9" fill="#222" textLength="35.1" lengthAdjust="spacingAndGlyphs">Dry+Int</text>
<text x="630.6" y="520.5" font-size="10.9" fill="#222" textLength="37" lengthAdjust="spacingAndGlyphs">Wet+Int</text>
</svg></body></html>
